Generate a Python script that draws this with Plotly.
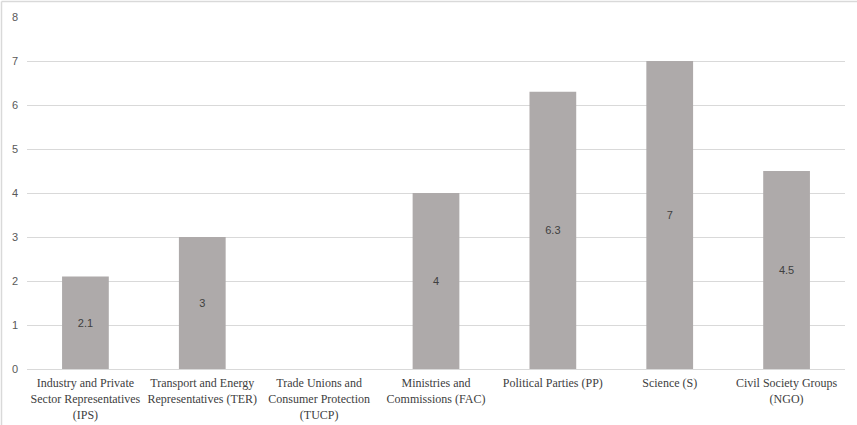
import plotly.graph_objects as go

# Stakeholder groups and their scores
categories = [
    "Industry and Private<br>Sector Representatives<br>(IPS)",
    "Transport and Energy<br>Representatives (TER)",
    "Trade Unions and<br>Consumer Protection<br>(TUCP)",
    "Ministries and<br>Commissions (FAC)",
    "Political Parties (PP)",
    "Science (S)",
    "Civil Society Groups<br>(NGO)",
]
values = [2.1, 3, 0, 4, 6.3, 7, 4.5]
y_ticks = [0, 1, 2, 3, 4, 5, 6, 7, 8]

labels = [("%g" % v) if v else "" for v in values]

W, H = 857, 425
ML, MR, MT, MB = 27, 12, 17, 56
pw, ph = W - ML - MR, H - MT - MB

fig = go.Figure(
    go.Bar(
        x=categories,
        y=values,
        text=labels,
        textposition="inside",
        insidetextanchor="middle",
        textangle=0,
        textfont=dict(family="Liberation Sans", size=11, color="#404040"),
        marker=dict(color="#aeaaaa", line=dict(width=0)),
        cliponaxis=False,
    )
)

# thin frame on the top and left edges of the canvas
px_x = lambda p: (p - ML) / pw
px_y = lambda p: (H - MB - p) / ph
frame = dict(color="#d9d9d9", width=1.5)
fig.add_shape(type="line", xref="paper", yref="paper",
              x0=px_x(1.5), x1=px_x(W), y0=px_y(1.5), y1=px_y(1.5), line=frame)
fig.add_shape(type="line", xref="paper", yref="paper",
              x0=px_x(1.5), x1=px_x(1.5), y0=px_y(1.5), y1=px_y(H), line=frame)

fig.update_layout(
    width=W,
    height=H,
    margin=dict(l=ML, r=MR, t=MT, b=MB, autoexpand=False),
    paper_bgcolor="white",
    plot_bgcolor="white",
    bargap=0.6,
    showlegend=False,
    xaxis=dict(
        tickfont=dict(family="Liberation Serif", size=12, color="#404040"),
        tickangle=0,
        showgrid=False,
        showline=True,
        linecolor="#d9d9d9",
        linewidth=1,
        ticks="",
        ticklabelstandoff=3,
        automargin=False,
    ),
    yaxis=dict(
        range=[0, 8],
        tickvals=y_ticks,
        tickfont=dict(family="Liberation Sans", size=11, color="#595959"),
        showgrid=True,
        gridcolor="#d9d9d9",
        gridwidth=1,
        zeroline=False,
        showline=False,
        ticks="",
        ticklabelstandoff=8,
        automargin=False,
    ),
)

fig.write_html("out.html")
